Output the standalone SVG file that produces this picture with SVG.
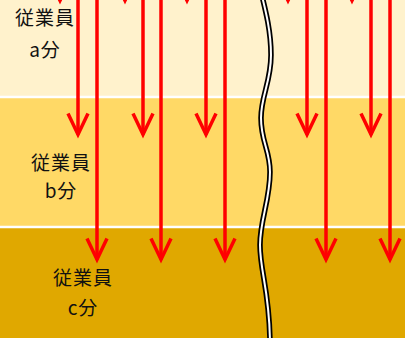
<svg xmlns="http://www.w3.org/2000/svg" width="405" height="338" viewBox="0 0 405 338">
<style>
.lbl{font-family:"Noto Sans CJK JP","Noto Sans",sans-serif;font-size:19px;fill:#111;text-anchor:middle;letter-spacing:1px}
.arr{stroke:#FF0000;stroke-width:3.5;fill:none;marker-end:url(#ah)}
.sep{stroke:#FFFFFF;stroke-width:2.5}
</style>
<defs>
<marker id="ah" markerUnits="userSpaceOnUse" viewBox="-26 -14 30 28" markerWidth="30" markerHeight="28" refX="0" refY="0" orient="auto">
<path d="M -21 -10 L 0 0 L -21 10" fill="none" stroke="#FF0000" stroke-width="3.5" stroke-linejoin="miter"/>
</marker>
</defs>
<g id="band-a">
<rect x="0" y="0" width="405" height="97" fill="#FFF2CC"/>
<text class="lbl" x="45" y="25">従業員</text>
<text class="lbl" x="45" y="57">a分</text>
</g>
<g id="band-b">
<rect x="0" y="97" width="405" height="130" fill="#FFD966"/>
<text class="lbl" x="61" y="170">従業員</text>
<text class="lbl" x="61" y="198">b分</text>
</g>
<g id="band-c">
<rect x="0" y="227" width="405" height="111" fill="#E0A800"/>
<text class="lbl" x="83" y="285">従業員</text>
<text class="lbl" x="83" y="315">c分</text>
</g>
<line class="sep" x1="0" y1="97" x2="405" y2="97"/>
<line class="sep" x1="0" y1="227" x2="405" y2="227"/>
<g id="connectors">
<line class="arr" x1="60" y1="-30" x2="60" y2="0.5"/>
<line class="arr" x1="125" y1="-30" x2="125" y2="0.5"/>
<line class="arr" x1="187" y1="-30" x2="187" y2="0.5"/>
<line class="arr" x1="288" y1="-30" x2="288" y2="0.5"/>
<line class="arr" x1="352" y1="-30" x2="352" y2="0.5"/>
<line class="arr" x1="78" y1="-5" x2="78" y2="134.5"/>
<line class="arr" x1="143" y1="-5" x2="143" y2="134.5"/>
<line class="arr" x1="206" y1="-5" x2="206" y2="134.5"/>
<line class="arr" x1="307" y1="-5" x2="307" y2="134.5"/>
<line class="arr" x1="371" y1="-5" x2="371" y2="134.5"/>
<line class="arr" x1="97" y1="-5" x2="97" y2="259.5"/>
<line class="arr" x1="161" y1="-5" x2="161" y2="259.5"/>
<line class="arr" x1="225" y1="-5" x2="225" y2="259.5"/>
<line class="arr" x1="326" y1="-5" x2="326" y2="259.5"/>
<line class="arr" x1="390" y1="-5" x2="390" y2="259.5"/>
</g>
<g id="break-line">
<path d="M 261,-8 C 266,12 271,32 271,55 C 271,82 261,96 261,118 C 261,142 270,150 270,172 C 270,200 260,220 260,245 C 260,272 270,292 270,345" fill="none" stroke="#000" stroke-width="5.5"/>
<path d="M 261,-8 C 266,12 271,32 271,55 C 271,82 261,96 261,118 C 261,142 270,150 270,172 C 270,200 260,220 260,245 C 260,272 270,292 270,345" fill="none" stroke="#FFF" stroke-width="2"/>
</g>
</svg>
